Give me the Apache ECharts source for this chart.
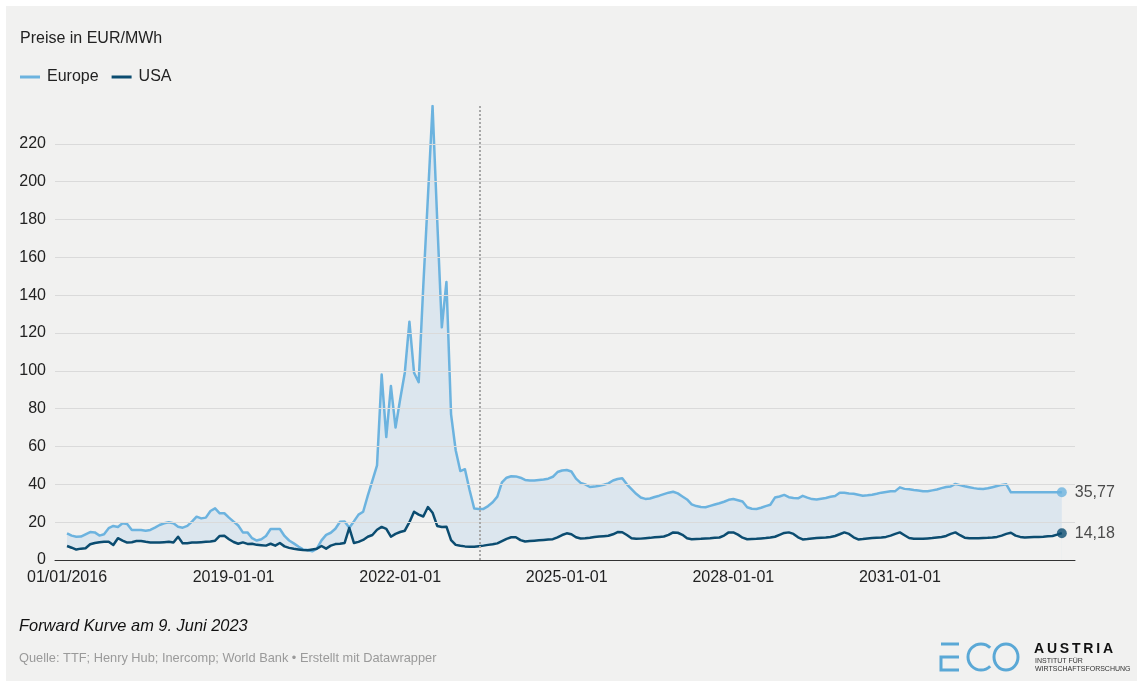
<!DOCTYPE html>
<html><head><meta charset="utf-8">
<script src="https://cdn.jsdelivr.net/npm/echarts@6/dist/echarts.min.js"></script>
<style>
html,body{margin:0;padding:0;background:#fff;}
#bg{position:absolute;left:6px;top:6px;width:1131px;height:675px;background:#f1f1f0;}
#chart{position:absolute;left:0;top:0;width:1137px;height:681px;}
</style></head><body>
<div id="bg"></div><div id="chart"></div>
<script>
// Monthly data, first value = January 2016
const startYear = 2016;
const europe = [
  14.1, 12.9, 12.3, 12.4, 13.6, 14.8, 14.6, 12.9, 13.6, 16.8, 18, 17.4,
  19.4, 19, 15.9, 15.9, 15.9, 15.5, 15.9, 17.1, 18.5, 19.4, 20, 19.4,
  17.6, 17.1, 18, 20.3, 22.9, 22, 22.4, 25.9, 27.3, 24.7, 24.7, 22.4,
  20.3, 18.2, 14.6, 14.6, 11.5, 10.3, 11, 12.7, 16.4, 16.4, 16.4, 12.7,
  10.3, 8.8, 7.1, 5.6, 5.3, 4.6, 6, 10.4, 13.3, 14.4, 16.5, 20.2,
  20.4, 17, 20.4, 24, 25.5, 34, 42, 50, 98, 65, 92, 70,
  85, 99, 126, 99, 94, 145, 192, 240, 180, 123, 147, 77,
  58, 47, 48, 37, 27.2, 27, 27, 28.5, 30.5, 33.5, 41, 43.5,
  44.3, 44.2, 43.5, 42.3, 42, 42, 42.3, 42.6, 43, 44, 46.5, 47.3,
  47.6, 46.8, 43, 40.8, 40, 38.6, 38.8, 39.3, 39.8, 40.5, 42, 42.8,
  43.2, 40, 37.5, 35, 33, 32.3, 32.5, 33.3, 34, 34.8, 35.6, 36.1,
  35.2, 33.6, 32, 29.4, 28.5, 28, 27.9, 28.6, 29.3, 30, 30.8, 31.8,
  32.2, 31.6, 30.9, 27.9, 27.1, 27, 27.6, 28.5, 29.2, 33, 33.6, 34.4,
  33.2, 32.8, 32.6, 33.9, 33, 32.2, 32, 32.4, 32.8, 33.4, 33.8, 35.5,
  35.5, 35.2, 35, 34.5, 34, 34.2, 34.5, 35, 35.6, 36, 36.3, 36.4,
  38.4, 37.6, 37.4, 37, 36.7, 36.3, 36.3, 36.8, 37.3, 38, 38.6, 38.9,
  40.2, 39.6, 39, 38.5, 38, 37.6, 37.5, 37.9, 38.5, 39.1, 39.7, 40,
  35.77, 35.77, 35.77, 35.77, 35.77, 35.77, 35.77, 35.77, 35.77, 35.77, 35.77, 35.77
];
const usa = [
  7.4, 6.5, 5.5, 6, 6.2, 8.3, 9, 9.4, 9.6, 9.6, 7.9, 11.5,
  10.3, 9.2, 9.4, 10, 10, 9.6, 9.3, 9.3, 9.2, 9.4, 9.6, 9.2,
  12.3, 8.8, 8.9, 9.2, 9.2, 9.4, 9.6, 9.8, 10.2, 12.7, 12.8, 11,
  9.5, 8.6, 9.3, 8.5, 8.6, 8, 7.8, 7.6, 8.6, 7.6, 9, 7.2,
  6.4, 5.9, 5.6, 5.3, 5.2, 5.6, 6, 7.4, 6, 7.6, 8.4, 8.6,
  9, 17, 9, 9.6, 10.6, 12.3, 13.2, 16, 17.5, 16.5, 12.3, 13.8,
  14.8, 15.5, 20, 25.5, 24, 23, 28, 25, 18, 17.4, 17.6, 10.5,
  8, 7.5, 7.2, 7, 7, 7.3, 7.6, 8, 8.3, 8.8, 10, 11.2,
  12, 12, 10.5, 9.8, 10, 10.2, 10.4, 10.6, 10.8, 11, 12, 13.2,
  14.1, 13.6, 12, 11.4, 11.5, 11.8, 12.2, 12.4, 12.6, 12.8, 13.6, 14.8,
  14.7, 13.2, 11.5, 11.2, 11.3, 11.5, 11.7, 12, 12.2, 12.4, 13.3, 14.6,
  14.4, 13.3, 11.5, 11, 11.1, 11.2, 11.4, 11.5, 11.7, 11.9, 12.9, 14.6,
  14.6, 13.4, 11.8, 11, 11.1, 11.2, 11.4, 11.6, 11.9, 12.3, 13.3, 14.3,
  14.6, 13.8, 12, 10.9, 11.1, 11.4, 11.6, 11.8, 11.9, 12.2, 12.7, 13.6,
  14.6, 13.8, 12, 10.9, 11.1, 11.4, 11.6, 11.8, 11.9, 12.2, 12.9, 13.8,
  14.6, 13.1, 11.6, 11.2, 11.2, 11.2, 11.4, 11.6, 11.9, 12.2, 12.7, 13.8,
  14.6, 13.1, 11.8, 11.5, 11.5, 11.5, 11.6, 11.7, 11.9, 12.2, 12.9, 13.8,
  14.4, 12.9, 12.2, 11.9, 12, 12.1, 12.2, 12.3, 12.5, 12.7, 13.4, 14.18
];
const seriesNames = ['Europe', 'USA'];
const xTickDates = ['2016-01-01', '2019-01-01', '2022-01-01', '2025-01-01', '2028-01-01', '2031-01-01'];
const xTickLabels = ['01/01/2016', '2019-01-01', '2022-01-01', '2025-01-01', '2028-01-01', '2031-01-01'];
const yTicks = [20, 40, 60, 80, 100, 120, 140, 160, 180, 200, 220];
const forwardDate = '2023-06-09';
const endLabels = ['35,77', '14,18'];

function monthIndex(s) {
  const p = s.split('-').map(Number);
  return (p[0] - startYear) * 12 + (p[1] - 1) + (p[2] - 1) / 30;
}
const xTickIdx = xTickDates.map(monthIndex);
const euroPts = europe.map((v, i) => [i, v]);
const usaPts = usa.map((v, i) => [i, v]);
const last = europe.length - 1;

const FONT = "'Liberation Sans', Arial, sans-serif";
const C_EU = '#6cb3df', C_US = '#0b4c70', C_FILL = '#dce6ee', C_BG = '#f1f1f0';

const chart = echarts.init(document.getElementById('chart'), null, {renderer: 'canvas'});
chart.setOption({
  animation: false,
  backgroundColor: 'transparent',
  textStyle: {fontFamily: FONT},
  grid: {left: 55, right: 62, top: 106, bottom: 121, containLabel: false},
  legend: {
    data: seriesNames, left: 20, top: 69, padding: 0, icon: 'rect', itemWidth: 20, itemHeight: 3,
    itemGap: 13, textStyle: {fontSize: 16, color: '#222', fontFamily: FONT, padding: [0, 0, 0, 2]}, selectedMode: false
  },
  xAxis: {
    type: 'value', min: -2.6, max: 217.85,
    splitLine: {show: false}, axisTick: {show: false},
    axisLine: {lineStyle: {color: '#333', width: 1}},
    axisLabel: {
      customValues: xTickIdx, fontSize: 16, color: '#222', margin: 10, fontFamily: FONT,
      formatter: v => { const k = xTickIdx.findIndex(t => Math.abs(t - v) < 1e-6); return k >= 0 ? xTickLabels[k] : ''; }
    }
  },
  yAxis: {
    type: 'value', min: 0, max: 240, interval: 20,
    splitLine: {show: false}, axisLine: {show: false}, axisTick: {show: false},
    axisLabel: {fontSize: 16, color: '#222', margin: 9, fontFamily: FONT,
      formatter: v => (v >= 240 ? '' : String(v))}
  },
  series: [
    {
      name: 'fillEU', type: 'line', data: euroPts, showSymbol: false,
      lineStyle: {opacity: 0}, silent: true, z: 1,
      areaStyle: {color: C_FILL, opacity: 1}
    },
    {
      name: 'maskUS', type: 'line', data: usaPts, showSymbol: false,
      lineStyle: {opacity: 0}, silent: true, z: 1.5,
      areaStyle: {color: C_BG, opacity: 1}
    },
    {
      name: 'grid', type: 'line', data: [], silent: true, z: 2,
      markLine: {
        silent: true, symbol: 'none', label: {show: false},
        lineStyle: {color: '#dadada', width: 1, type: 'solid'},
        data: yTicks.map(v => ({yAxis: v}))
      }
    },
    {
      name: 'Europe', type: 'line', data: euroPts, showSymbol: false,
      lineStyle: {color: C_EU, width: 2.5, join: 'round'}, itemStyle: {color: C_EU}, z: 3,
      markLine: {
        silent: true, symbol: 'none', label: {show: false},
        lineStyle: {color: '#a8a8a8', width: 2, type: [2, 2]},
        data: [{xAxis: monthIndex(forwardDate)}]
      }
    },
    {
      name: 'USA', type: 'line', data: usaPts, showSymbol: false,
      lineStyle: {color: C_US, width: 2.5, join: 'round'}, itemStyle: {color: C_US}, z: 4
    },
    {
      name: 'ends', type: 'scatter', symbolSize: 10, z: 5, silent: true,
      data: [
        {value: [last, europe[last]], itemStyle: {color: C_EU}, label: {formatter: endLabels[0]}},
        {value: [last, usa[last]], itemStyle: {color: C_US}, label: {formatter: endLabels[1]}}
      ],
      label: {show: true, position: 'right', distance: 8, fontSize: 16, color: '#222', fontFamily: FONT}
    }
  ],
  graphic: [
    {type: 'text', left: 20, top: 31, style: {text: 'Preise in EUR/MWh', fill: '#222', font: '16px ' + FONT}},
    {type: 'text', left: 19, top: 618, style: {text: 'Forward Kurve am 9. Juni 2023', fill: '#111', font: 'italic 16.4px ' + FONT}},
    {type: 'text', left: 19, top: 652, style: {text: 'Quelle: TTF; Henry Hub; Inercomp; World Bank \u2022 Erstellt mit Datawrapper', fill: '#9a9a9a', font: '12.8px ' + FONT}},
    // logo
    {type: 'polyline', shape: {points: [[941, 644], [959, 644]]}, style: {stroke: '#5aa8d6', lineWidth: 3, fill: null}},
    {type: 'polyline', shape: {points: [[959, 657], [941, 657], [941, 670], [959, 670]]}, style: {stroke: '#5aa8d6', lineWidth: 3, fill: null}},
    {type: 'arc', shape: {cx: 981, cy: 657, r: 13, startAngle: Math.PI / 4, endAngle: Math.PI * 7 / 4, clockwise: true}, style: {stroke: '#5aa8d6', lineWidth: 3, fill: null}},
    {type: 'ellipse', shape: {cx: 1006, cy: 657, rx: 12, ry: 13}, style: {stroke: '#5aa8d6', lineWidth: 3, fill: null}},
    {type: 'text', left: 1034, top: 642, style: {text: 'A\u2009U\u2009S\u2009T\u2009R\u2009I\u2009A', fill: '#111', font: 'bold 14px ' + FONT}},
    {type: 'text', left: 1035, top: 658, style: {text: 'INSTITUT F\u00dcR', fill: '#333', font: '7px ' + FONT}},
    {type: 'text', left: 1035, top: 666, style: {text: 'WIRTSCHAFTSFORSCHUNG', fill: '#333', font: '7px ' + FONT}}
  ]
});
</script>
</body></html>
